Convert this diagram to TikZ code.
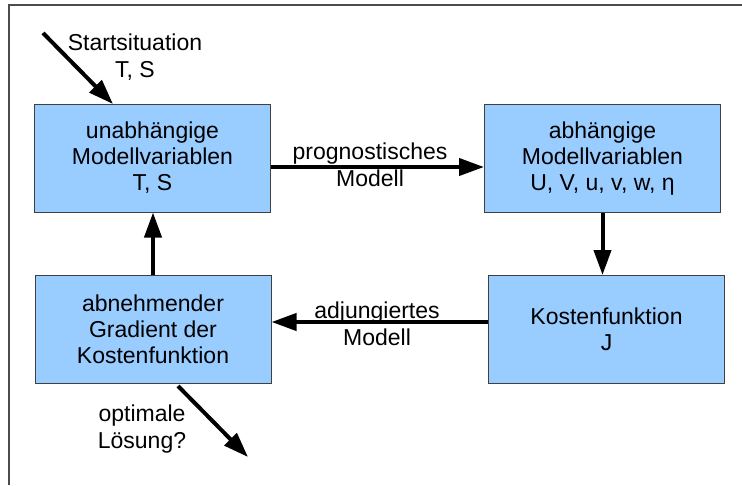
\documentclass[tikz,border=0pt]{standalone}
\usepackage{fontspec}
\setmainfont{Liberation Sans}
\usetikzlibrary{arrows.meta}
\definecolor{boxblue}{HTML}{99CCFF}
\definecolor{boxedge}{HTML}{404040}
\tikzset{
  box/.style={draw=boxedge, line width=1pt, fill=boxblue, rectangle, align=center,
    minimum width=236pt, minimum height=108pt, inner sep=0pt,
    font=\fontsize{23pt}{26pt}\selectfont},
  lbl/.style={align=center, inner sep=0pt, font=\fontsize{23pt}{26.5pt}\selectfont},
  arr/.style={line width=4pt, -{Triangle[length=25pt,width=17pt]}},
}
\begin{document}
\begin{tikzpicture}[x=1pt,y=-1pt]
\useasboundingbox (0,0) rectangle (742,485);
\draw[draw=gray!60!black, line width=1.5pt] (9,485) -- (9,5) -- (742,5);
\node[box] (b1) at (152.5,158) {unabhängige\\Modellvariablen\\T, S};
\node[box] (b2) at (602.5,158.5) {abhängige\\Modellvariablen\\U, V, u, v, w, η};
\node[box] (b3) at (153,329.5) {abnehmender\\Gradient der\\Kostenfunktion};
\node[box] (b4) at (606.5,329.5) {Kostenfunktion\\J};
\coordinate (start) at (43,33);
\coordinate (send) at (113,104);
\coordinate (ostart) at (178,386);
\coordinate (oend) at (248,457);
\draw[arr] (start) -- (send);
\draw[arr] ([yshift=-9pt]b1.east) -- ([yshift=-9pt]b1.east -| b2.west);
\draw[arr] (b2.south) -- (b2.south |- b4.north);
\draw[arr] ([yshift=7.5pt]b4.west) -- ([yshift=7.5pt]b4.west -| b3.east);
\draw[arr] (b3.north) -- (b3.north |- b1.south);
\draw[arr] (ostart) -- (oend);
\node[lbl] (l1) at (135,57) {Startsituation\\T, S};
\node[lbl] (l2) at (370,165) {prognostisches\\Modell};
\node[lbl] (l3) at (377,324) {adjungiertes\\Modell};
\node[lbl] (l4) at (142,429) {optimale\\Lösung?};
\end{tikzpicture}
\end{document}
